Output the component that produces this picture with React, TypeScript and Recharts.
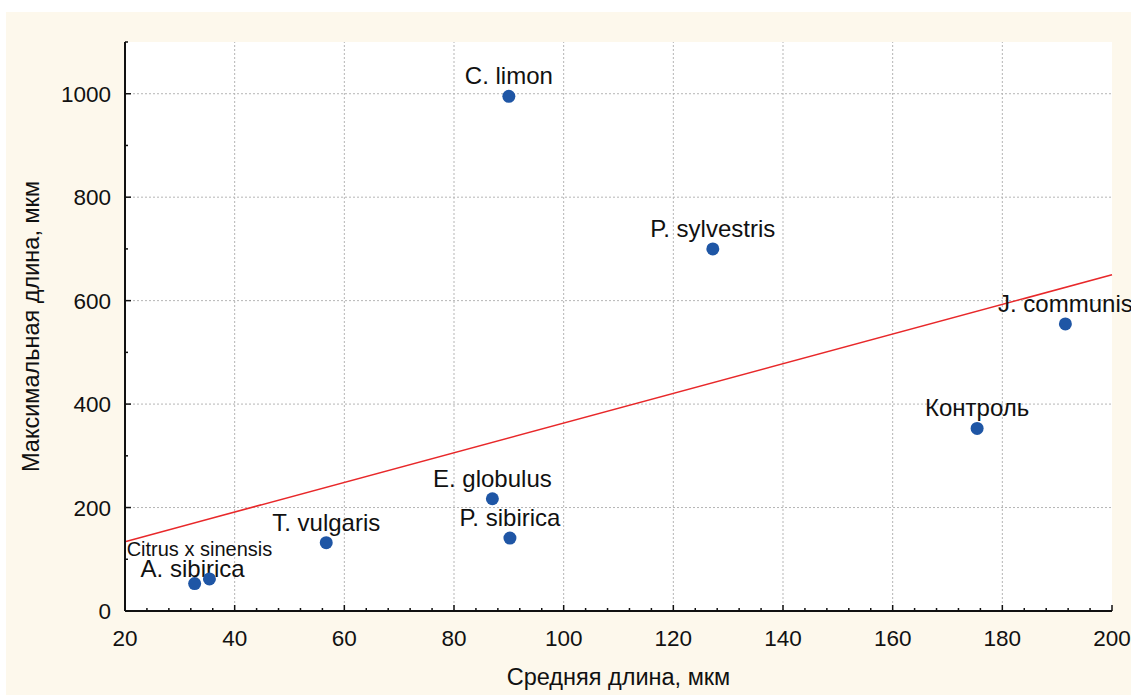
import {
  ScatterChart,
  Scatter,
  XAxis,
  YAxis,
  CartesianGrid,
  ReferenceLine
} from "recharts";

// species labels and measured values
const names = [
  "C. limon",
  "P. sylvestris",
  "J. communis",
  "Контроль",
  "E. globulus",
  "P. sibirica",
  "T. vulgaris",
  "A. sibirica",
  "Citrus x sinensis"
];
const meanLen = [90, 127.2, 191.5, 175.4, 87, 90.2, 56.7, 32.7, 35.4];
const maxLen = [995, 700, 555, 353, 217, 141, 132, 53, 62];

// regression line ends
const trendX = [20, 200];
const trendY = [134, 650];

const xMajor = [20, 40, 60, 80, 100, 120, 140, 160, 180, 200];
const yMajor = [0, 200, 400, 600, 800, 1000];

// minor ticks: 4 per major step on x, 1 per step on y
const xTicks: number[] = [];
xMajor.forEach((v, i) => {
  xTicks.push(v);
  if (i < xMajor.length - 1) for (let k = 1; k < 5; k++) xTicks.push(v + k * 4);
});
const yTicks: number[] = [];
yMajor.forEach((v) => {
  yTicks.push(v);
  yTicks.push(v + 100);
});

const points = names.map((name, i) => ({ name, x: meanLen[i], y: maxLen[i] }));

const FONT = "'Liberation Sans', Arial, sans-serif";
const INK = "#111";

const labelTweak: Record<string, { dx: number; dy: number; size: number }> = {
  "A. sibirica": { dx: -2, dy: -7, size: 24 },
  "Citrus x sinensis": { dx: -10, dy: -23, size: 20 }
};
const labelDefault = { dx: 0, dy: -12, size: 24 };

const Dot = (p: any) => {
  const { cx, cy, payload } = p;
  const s = labelTweak[payload.name] ?? labelDefault;
  return (
    <g>
      <circle cx={cx} cy={cy} r={6.5} fill="#1f56a5" />
      <text
        x={cx + s.dx}
        y={cy + s.dy}
        textAnchor="middle"
        fontSize={s.size}
        fontFamily={FONT}
        fill={INK}
      >
        {payload.name}
      </text>
    </g>
  );
};

const makeTick = (side: "bottom" | "top" | "left" | "right") => (p: any) => {
  const { x, y, payload } = p;
  const v = payload.value;
  const horiz = side === "bottom" || side === "top";
  const major = horiz ? xMajor.includes(v) : yMajor.includes(v);
  const len = major ? 6 : 3;
  if (side === "bottom")
    return (
      <g>
        <line x1={x} x2={x} y1={y} y2={y - len} stroke={INK} strokeWidth={1.5} />
        {major && (
          <text x={x} y={y + 35} textAnchor="middle" fontSize={22.5} fontFamily={FONT} fill={INK}>
            {v}
          </text>
        )}
      </g>
    );
  if (side === "top")
    return <line x1={x} x2={x} y1={y} y2={y + len} stroke={INK} strokeWidth={1.5} />;
  if (side === "left")
    return (
      <g>
        <line x1={x} x2={x + len} y1={y} y2={y} stroke={INK} strokeWidth={1.5} />
        {major && (
          <text x={x - 14} y={y + 8} textAnchor="end" fontSize={22.5} fontFamily={FONT} fill={INK}>
            {v}
          </text>
        )}
      </g>
    );
  return <line x1={x} x2={x - len} y1={y} y2={y} stroke={INK} strokeWidth={1.5} />;
};

export default function App() {
  return (
    <div
      style={{
        position: "fixed",
        left: 6,
        top: 12,
        width: 1125,
        height: 683,
        background: "#fdf8ec"
      }}
    >
      <ScatterChart
        width={1125}
        height={683}
        margin={{ top: 30, right: 19, bottom: 0, left: 0 }}
      >
        <CartesianGrid xAxisId="b" yAxisId="l" fill="#fff" horizontal={false} vertical={false} />
        <XAxis
          xAxisId="b"
          type="number"
          dataKey="x"
          domain={[20, 200]}
          ticks={xTicks}
          interval={0}
          height={84}
          tickSize={0}
          tickMargin={0}
          tick={makeTick("bottom")}
          tickLine={false}
          axisLine={{ stroke: INK, strokeWidth: 2 }}
          label={{
            value: "Средняя длина, мкм",
            position: "insideBottom",
            offset: 10,
            style: { fontSize: 23.5, fontFamily: FONT, fill: INK }
          }}
        />
        <XAxis
          xAxisId="t"
          orientation="top"
          type="number"
          domain={[20, 200]}
          allowDataOverflow
          ticks={xTicks}
          interval={0}
          height={0}
          tickSize={0}
          tickMargin={0}
          tick={makeTick("top")}
          tickLine={false}
          axisLine={{ stroke: INK, strokeWidth: 2 }}
        />
        <YAxis
          yAxisId="l"
          type="number"
          dataKey="y"
          domain={[0, 1100]}
          ticks={yTicks}
          interval={0}
          width={119}
          tickSize={0}
          tickMargin={0}
          tick={makeTick("left")}
          tickLine={false}
          axisLine={{ stroke: INK, strokeWidth: 2 }}
          label={{
            value: "Максимальная длина, мкм",
            angle: -90,
            position: "insideLeft",
            offset: 25,
            style: { fontSize: 23.5, fontFamily: FONT, fill: INK, textAnchor: "middle" }
          }}
        />
        <YAxis
          yAxisId="r"
          orientation="right"
          type="number"
          domain={[0, 1100]}
          allowDataOverflow
          ticks={yTicks}
          interval={0}
          width={0}
          tickSize={0}
          tickMargin={0}
          tick={makeTick("right")}
          tickLine={false}
          axisLine={{ stroke: INK, strokeWidth: 2 }}
        />
        {xMajor.slice(1, -1).map((v) => (
          <ReferenceLine
            key={"gx" + v}
            xAxisId="b"
            yAxisId="l"
            x={v}
            stroke="#b5b5b5"
            strokeDasharray="2 2"
          />
        ))}
        {yMajor.slice(1).map((v) => (
          <ReferenceLine
            key={"gy" + v}
            xAxisId="b"
            yAxisId="l"
            y={v}
            stroke="#b5b5b5"
            strokeDasharray="2 2"
          />
        ))}
        <ReferenceLine
          xAxisId="b"
          yAxisId="l"
          segment={[
            { x: trendX[0], y: trendY[0] },
            { x: trendX[1], y: trendY[1] }
          ]}
          stroke="#e8282a"
          strokeWidth={1.5}
        />
        <Scatter
          xAxisId="b"
          yAxisId="l"
          data={points}
          shape={Dot}
          isAnimationActive={false}
        />
      </ScatterChart>
    </div>
  );
}
